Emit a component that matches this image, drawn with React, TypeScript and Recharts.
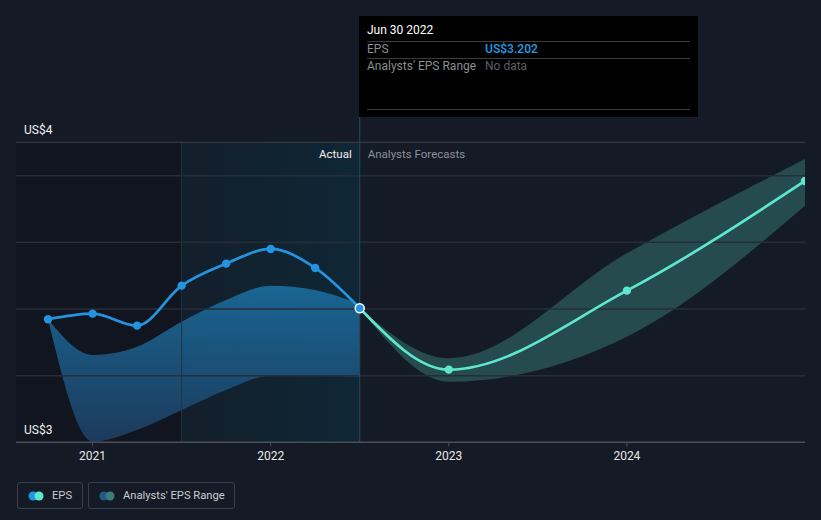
import React from "react";
import { ComposedChart, Area, Line, XAxis, YAxis, ReferenceLine, ReferenceArea } from "recharts";

// ---- data ----
const actualDates = [2020.75, 2021.0, 2021.25, 2021.5, 2021.75, 2022.0, 2022.25, 2022.5];
const actualEps = [3.169, 3.186, 3.15, 3.27, 3.336, 3.38, 3.323, 3.202];
const actualLow = [3.169, 2.802, 2.837, 2.897, 2.957, 3.0, 2.999, 2.997];
const actualHigh = [3.169, 3.062, 3.087, 3.162, 3.227, 3.27, 3.257, 3.215];

const forecastDates = [2022.5, 2023.0, 2024.0, 2025.0];
const forecastEps = [3.202, 3.018, 3.255, 3.584];
const forecastLow = [3.202, 2.982, 3.117, 3.51];
const forecastHigh = [3.202, 3.052, 3.367, 3.65];

const yearTicks = [2021, 2022, 2023, 2024];
const gridValues = [3.0, 3.2, 3.4, 3.6];
const yTop = 3.7;
const yBottom = 2.8;
const yTopLabel = "US$4";
const yBottomLabel = "US$3";
const xStart = 2020.57;
const xEnd = 2025.0;
const shadeStart = 2021.5;
const todayX = 2022.5;

const tooltipDate = "Jun 30 2022";
const tooltipEps = "US$3.202";
const tooltipRange = "No data";

// ---- build table ----
type Row = {
  x: number;
  eps?: number;
  actualRange?: [number, number];
  fEps?: number;
  forecastRange?: [number, number];
};
const rowMap = new Map<number, Row>();
const getRow = (x: number): Row => {
  if (!rowMap.has(x)) rowMap.set(x, { x });
  return rowMap.get(x)!;
};
actualDates.forEach((d, i) => {
  const r = getRow(d);
  r.eps = actualEps[i];
  r.actualRange = [actualLow[i], actualHigh[i]];
});
forecastDates.forEach((d, i) => {
  const r = getRow(d);
  r.fEps = forecastEps[i];
  r.forecastRange = [forecastLow[i], forecastHigh[i]];
});
const data = Array.from(rowMap.values()).sort((a, b) => a.x - b.x);

const FONT = "Roboto, 'Noto Sans', sans-serif";
const BLUE = "#2394df";
const TEAL = "#5ee6cf";
const BG = "#151b26";

const YLabel = (props: any) => {
  const { viewBox, value } = props;
  if (!viewBox) return null;
  return (
    <text x={viewBox.x + 8} y={viewBox.y - 8} fill="#f2f2f2" fontSize={12} fontFamily={FONT}>
      {value}
    </text>
  );
};

const SplitLabel = (props: any) => {
  const { viewBox } = props;
  if (!viewBox) return null;
  const y = 142.3 + 16;
  return (
    <g fontFamily={FONT} fontSize={11.5}>
      <text x={viewBox.x - 8} y={y} textAnchor="end" fill="#f0f0f0">
        Actual
      </text>
      <text x={viewBox.x + 8} y={y} textAnchor="start" fill="#8b9099">
        Analysts Forecasts
      </text>
    </g>
  );
};

const actualDot = (props: any) => {
  const { cx, cy, index } = props;
  if (cx == null || cy == null) return <g key={`ad${index}`} />;
  if (index === actualDates.length - 1) {
    return <circle key={`ad${index}`} cx={cx} cy={cy} r={4.5} fill={BLUE} stroke="#ffffff" strokeWidth={1.5} />;
  }
  return <circle key={`ad${index}`} cx={cx} cy={cy} r={4.2} fill={BLUE} stroke="none" />;
};

const forecastDot = (props: any) => {
  const { cx, cy, index, payload } = props;
  if (cx == null || cy == null || payload.x === todayX) return <g key={`fd${index}`} />;
  return <circle key={`fd${index}`} cx={cx} cy={cy} r={4.2} fill={TEAL} stroke="none" />;
};

const LegendItem = ({ c1, c2, label, width }: { c1: string; c2: string; label: string; width: number }) => (
  <div
    style={{
      boxSizing: "border-box",
      width,
      height: 27,
      border: "1px solid #3a404b",
      borderRadius: 3,
      display: "flex",
      alignItems: "center",
      paddingLeft: 10,
      marginRight: 5,
    }}
  >
    <svg width={16} height={10} style={{ marginRight: 8 }}>
      <circle cx={5} cy={5} r={4.5} fill={c1} />
      <circle cx={11} cy={5} r={4.5} fill={c2} />
    </svg>
    <span style={{ color: "#c9ccd1", fontSize: 11.2, fontFamily: FONT }}>{label}</span>
  </div>
);

export default function App() {
  return (
    <div style={{ position: "absolute", left: 0, top: 0, width: 821, height: 520, background: BG, overflow: "hidden" }}>
      <ComposedChart
        width={821}
        height={520}
        data={data}
        margin={{ top: 142.3, right: 16, bottom: 47.7, left: 16 }}
      >
        <defs>
          <linearGradient id="shadeGrad" x1="0" y1="0" x2="1" y2="0">
            <stop offset="0%" stopColor="#003e55" stopOpacity={0.2} />
            <stop offset="100%" stopColor="#003e55" stopOpacity={0.65} />
          </linearGradient>
          <linearGradient id="actualBand" x1="0" y1="0" x2="0" y2="1">
            <stop offset="0%" stopColor="#1a6a9a" stopOpacity={1} />
            <stop offset="100%" stopColor="#1d3d60" stopOpacity={1} />
          </linearGradient>
        </defs>
        <XAxis
          type="number"
          dataKey="x"
          domain={[xStart, xEnd]}
          allowDataOverflow
          ticks={yearTicks}
          tickFormatter={(v: number) => String(Math.round(v))}
          height={30}
          axisLine={{ stroke: "#4a505b", strokeWidth: 1.5 }}
          tickLine={{ stroke: "#4a505b" }}
          tickSize={4}
          tickMargin={5}
          tick={{ fill: "#e8e8e8", fontSize: 12, fontFamily: FONT }}
        />
        <YAxis type="number" domain={[yBottom, yTop]} allowDataOverflow hide />
        <ReferenceArea x1={xStart} x2={shadeStart} y1={yBottom} y2={yTop} fill="#0f131b" fillOpacity={0.6} stroke="none" ifOverflow="hidden" />
        <ReferenceArea x1={shadeStart} x2={todayX} y1={yBottom} y2={yTop} fill="url(#shadeGrad)" stroke="none" ifOverflow="hidden" />
        <ReferenceLine x={shadeStart} stroke="#1d3645" strokeWidth={1} />
        {gridValues.map((v) => (
          <ReferenceLine key={v} y={v} stroke="#272d38" strokeWidth={1.5} />
        ))}
        <ReferenceLine y={yTop} stroke="#3b414c" strokeWidth={1} label={<YLabel value={yTopLabel} />} />
        <ReferenceLine y={yBottom} stroke="none" label={<YLabel value={yBottomLabel} />} />
        <Area
          type="monotone"
          dataKey="actualRange"
          fill="url(#actualBand)"
          fillOpacity={0.93}
          stroke="none"
          isAnimationActive={false}
          activeDot={false}
          dot={false}
        />
        <Area
          type="monotone"
          dataKey="forecastRange"
          fill={TEAL}
          fillOpacity={0.24}
          stroke="none"
          isAnimationActive={false}
          activeDot={false}
          dot={false}
        />
        <ReferenceLine
          ifOverflow="visible"
          segment={[
            { x: todayX, y: yBottom },
            { x: todayX, y: 3.778 },
          ]}
          stroke="#284a5b"
          strokeWidth={1}
          label={<SplitLabel />}
        />
        <Line
          type="monotone"
          dataKey="fEps"
          stroke={TEAL}
          strokeWidth={2.7}
          dot={forecastDot}
          activeDot={false}
          isAnimationActive={false}
        />
        <Line
          type="monotone"
          dataKey="eps"
          stroke={BLUE}
          strokeWidth={2.7}
          dot={actualDot}
          activeDot={false}
          isAnimationActive={false}
        />
      </ComposedChart>

      {/* tooltip panel */}
      <div
        style={{
          position: "absolute",
          left: 359,
          top: 16,
          width: 339,
          height: 101,
          background: "#000000",
          fontFamily: FONT,
          fontSize: 12,
        }}
      >
        <div style={{ position: "absolute", left: 8, top: 7, color: "#ffffff" }}>{tooltipDate}</div>
        <div style={{ position: "absolute", left: 8, right: 8, top: 25, borderTop: "1px solid #3c3c3c" }} />
        <div style={{ position: "absolute", left: 8, top: 26, color: "#8a8d92" }}>EPS</div>
        <div style={{ position: "absolute", left: 126, top: 26, color: BLUE, fontWeight: 600 }}>{tooltipEps}</div>
        <div style={{ position: "absolute", left: 8, right: 8, top: 42, borderTop: "1px solid #3c3c3c" }} />
        <div style={{ position: "absolute", left: 8, top: 43, color: "#8a8d92" }}>Analysts' EPS Range</div>
        <div style={{ position: "absolute", left: 126, top: 43, color: "#5c5f64" }}>{tooltipRange}</div>
        <div style={{ position: "absolute", left: 8, right: 8, top: 93, borderTop: "1px solid #3c3c3c" }} />
      </div>

      {/* legend */}
      <div style={{ position: "absolute", left: 17, top: 482, display: "flex" }}>
        <LegendItem c1={BLUE} c2={TEAL} label="EPS" width={66} />
        <LegendItem c1="#1d5b86" c2="#3a7c76" label="Analysts' EPS Range" width={147} />
      </div>
    </div>
  );
}
